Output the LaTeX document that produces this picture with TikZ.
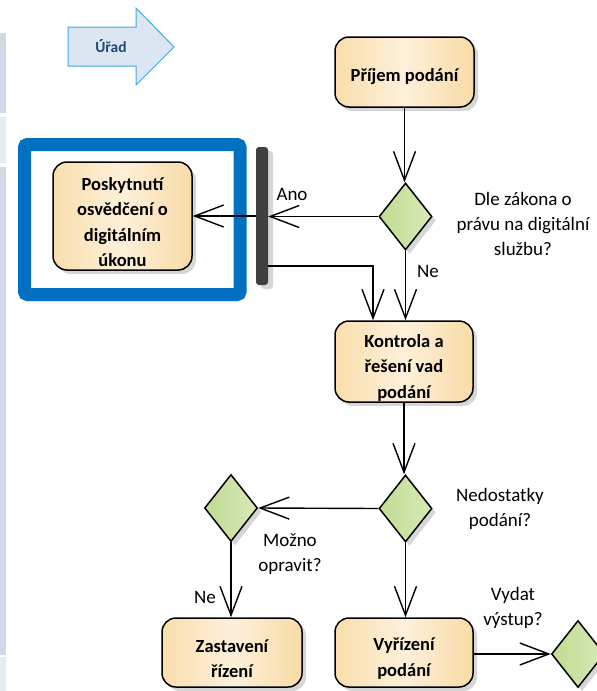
\documentclass[tikz,border=0pt]{standalone}
\usepackage{fontspec}
\setmainfont{Carlito}
\usetikzlibrary{arrows.meta,shapes.geometric,shadows}

\definecolor{stripD}{HTML}{D0D8E6}
\definecolor{stripL}{HTML}{E6EBF4}
\definecolor{arrowFill}{HTML}{DCE6F2}
\definecolor{arrowLine}{HTML}{3FAAE2}
\definecolor{laneText}{HTML}{1F497D}
\definecolor{frameBlue}{HTML}{0070C0}
\definecolor{boxL}{HTML}{F9DEAD}
\definecolor{boxM}{HTML}{FDF0DA}
\definecolor{boxR}{HTML}{F8DBA6}
\definecolor{decL}{HTML}{C2DB93}
\definecolor{decR}{HTML}{D6E9B6}
\definecolor{barGray}{HTML}{404040}
\definecolor{shadowGray}{HTML}{D6D6D6}

\tikzset{
  flowline/.style={line width=1.4pt, draw=black},
  arr/.style={flowline, -{Straight Barb[length=29pt,width=22pt,line width=1.4pt]}},
  actbox/.style={rectangle, rounded corners=14pt, draw=black, line width=1.5pt,
    left color=boxL, right color=boxR, middle color=boxM,
    general shadow={fill=shadowGray, shadow xshift=4pt, shadow yshift=-4pt},
    inner sep=0pt},
  acttext/.style={align=center, font=\fontsize{18.5}{25.5}\selectfont\bfseries, inner sep=0pt},
  decision/.style={diamond, draw=black, line width=1.5pt, left color=decL, right color=decR,
    general shadow={fill=shadowGray, shadow xshift=4pt, shadow yshift=-4pt},
    minimum width=53pt, minimum height=67pt, inner sep=0pt},
  lbl/.style={align=center, font=\fontsize{19}{25}\selectfont, inner sep=0pt},
  forkbar/.style={rectangle, fill=barGray, rounded corners=3pt, minimum width=12pt,
    minimum height=138pt, inner sep=0pt,
    general shadow={fill=shadowGray, shadow xshift=5pt, shadow yshift=-4pt}},
}

\begin{document}
\begin{tikzpicture}[x=1pt,y=-1pt]
\useasboundingbox (0,0) rectangle (597,691);

% swimlane edge strip
\fill[stripD] (0,33) rectangle (6,113);
\fill[stripL] (0,117) rectangle (6,163);
\fill[stripD] (0,167) rectangle (6,655);
\fill[stripL] (0,657) rectangle (6,691);

% lane header arrow
\draw[fill=arrowFill, draw=arrowLine, line width=1pt]
  (68,27) -- (136,27) -- (136,8) -- (174,47) -- (136,85) -- (136,66) -- (68,66) -- cycle;
\node[anchor=base, inner sep=0pt, text=laneText, font=\fontsize{15.5}{18}\selectfont\bfseries]
  (urad) at (111,52) {Úřad};

% highlight frame
\draw[frameBlue, line width=13pt, rounded corners=3pt] (24.5,144.5) rectangle (240,294.5);

% activities
\node[actbox, minimum width=139pt, minimum height=70pt] (prijem) at (404.5,72) {};
\node[acttext] (prijem-t) at ([yshift=-5pt]prijem.center) {Příjem podání};

\node[actbox, minimum width=139pt, minimum height=108pt] (posk) at (122.5,216) {};
\node[acttext] (posk-t) at ([yshift=-6pt]posk.center) {Poskytnutí\\osvědčení o\\digitálním\\úkonu};

\node[actbox, minimum width=138pt, minimum height=81pt] (kontrola) at (404,361.5) {};
\node[acttext] (kontrola-t) at ([yshift=-6pt]kontrola.center) {Kontrola a\\řešení vad\\podání};

\node[actbox, minimum width=140pt, minimum height=69pt] (zast) at (232,652.5) {};
\node[acttext] (zast-t) at ([yshift=-6pt]zast.center) {Zastavení\\řízení};

\node[actbox, minimum width=138pt, minimum height=69pt] (vyr) at (404,652.5) {};
\node[acttext] (vyr-t) at ([yshift=-6pt]vyr.center) {Vyřízení\\podání};

% decisions
\node[decision] (d1) at (405.5,216.5) {};
\node[decision] (d2) at (405.5,508.5) {};
\node[decision] (d3) at (231,508) {};
\node[decision] (d4) at (578,654) {};

% fork bar
\node[forkbar] (bar) at (262,216) {};

% connectors
\draw[arr] (prijem.south) -- (prijem.south |- d1.north);
\draw[arr] (d1.west) -- (d1.west -| bar.east);
\draw[arr] (bar.west |- posk.east) -- (posk.east);
\draw[arr] ([yshift=-50pt]bar.east) -| ([xshift=-31pt]kontrola.north);
\draw[arr] (d1.south) -- (d1.south |- kontrola.north);
\draw[arr] (kontrola.south) -- (kontrola.south |- d2.north);
\draw[arr] (d2.west) -- (d3.east);
\draw[arr] (d3.south) -- (d3.south |- zast.north);
\draw[arr] (d2.south) -- (d2.south |- vyr.north);
\draw[arr] (vyr.east |- d4.west) -- (d4.west);

% guard and question labels
\node[lbl, anchor=base] (ano) at (292,200) {Ano};
\node[lbl, anchor=base] (ne1) at (428,277) {Ne};
\node[lbl] (q1) at (523,224) {Dle zákona o\\právu na digitální\\službu?};
\node[lbl] (q2) at (500,509) {Nedostatky\\podání?};
\node[lbl] (q3) at (290,554) {Možno\\opravit?};
\node[lbl, anchor=base] (ne2) at (205,603) {Ne};
\node[lbl] (q4) at (513,608) {Vydat\\výstup?};
\end{tikzpicture}
\end{document}
